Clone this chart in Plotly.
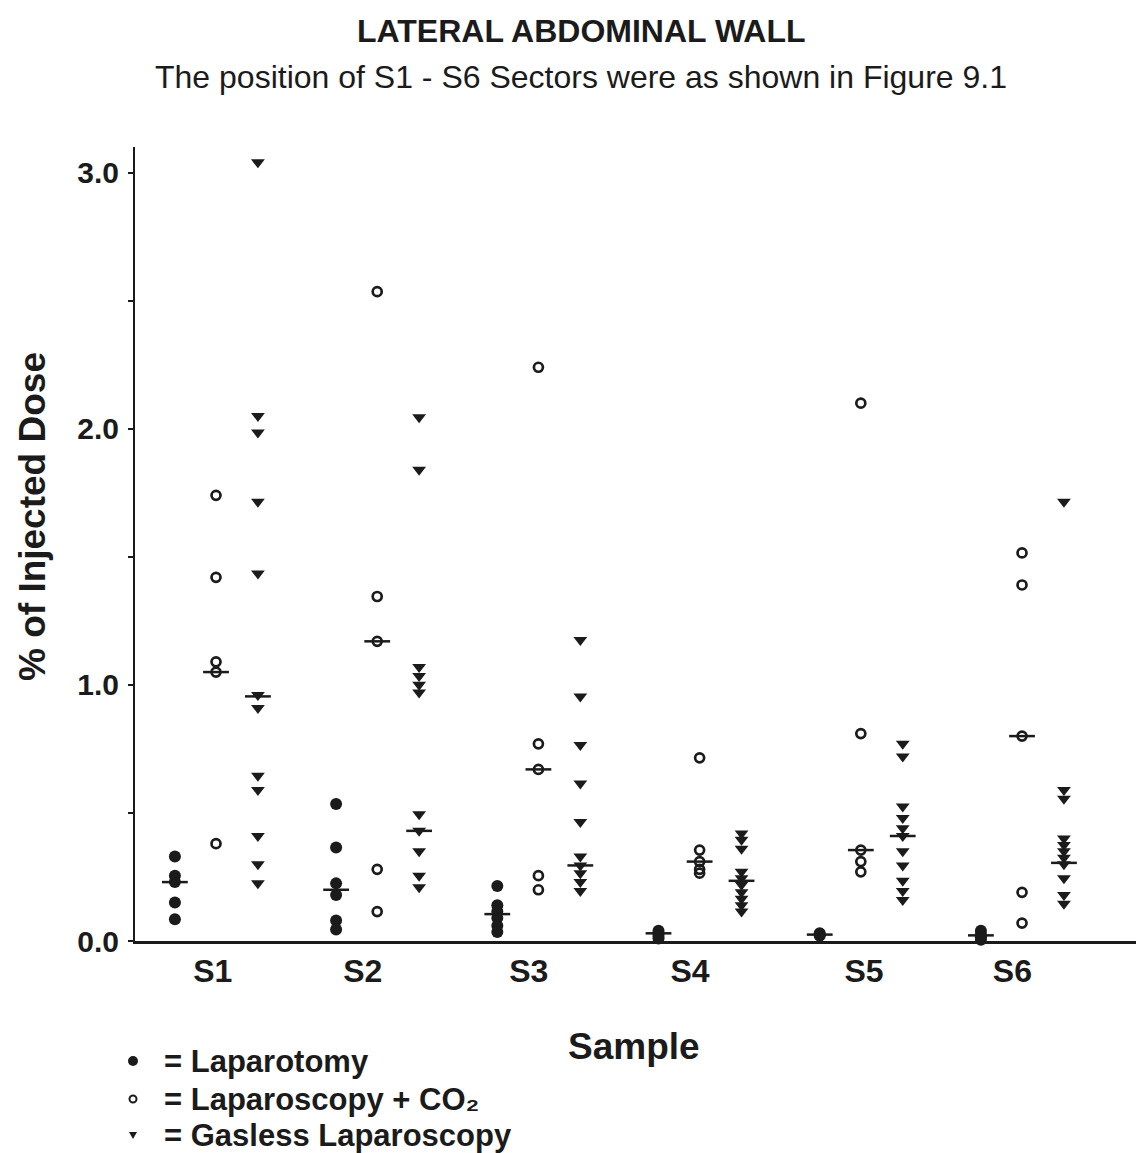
import plotly.graph_objects as go

# ---------------- data ----------------
sectors = ["S1", "S2", "S3", "S4", "S5", "S6"]

laparotomy = [
    [0.33, 0.255, 0.23, 0.15, 0.085],
    [0.535, 0.365, 0.225, 0.18, 0.08, 0.045],
    [0.215, 0.14, 0.115, 0.09, 0.06, 0.035],
    [0.04, 0.03, 0.02, 0.01],
    [0.03, 0.025, 0.02],
    [0.04, 0.025, 0.015, 0.005],
]
laparotomy_median = [0.23, 0.20, 0.105, 0.03, 0.025, 0.022]

laparoscopy_co2 = [
    [1.74, 1.42, 1.09, 1.05, 0.38],
    [2.535, 1.345, 1.17, 0.28, 0.115],
    [2.24, 0.77, 0.67, 0.255, 0.20],
    [0.715, 0.355, 0.31, 0.28, 0.265],
    [2.10, 0.81, 0.355, 0.31, 0.27],
    [1.515, 1.39, 0.80, 0.19, 0.07],
]
laparoscopy_co2_median = [1.05, 1.17, 0.67, 0.31, 0.355, 0.80]

gasless = [
    [3.04, 2.05, 1.985, 1.715, 1.435, 0.96, 0.91, 0.645, 0.59, 0.41, 0.30, 0.225],
    [2.045, 1.84, 1.07, 1.035, 1.0, 0.97, 0.495, 0.43, 0.35, 0.255, 0.21],
    [1.175, 0.955, 0.765, 0.615, 0.465, 0.33, 0.295, 0.265, 0.23, 0.195],
    [0.42, 0.395, 0.36, 0.27, 0.245, 0.22, 0.19, 0.165, 0.14, 0.115],
    [0.77, 0.72, 0.525, 0.48, 0.44, 0.41, 0.35, 0.295, 0.235, 0.195, 0.16],
    [1.715, 0.59, 0.555, 0.40, 0.375, 0.35, 0.325, 0.30, 0.245, 0.18, 0.145],
]
gasless_median = [0.955, 0.43, 0.295, 0.235, 0.41, 0.305]

y_ticks = [0.0, 1.0, 2.0, 3.0]

legend_labels = ["= Laparotomy", "= Laparoscopy + CO\u2082", "= Gasless Laparoscopy"]

# ---------------- layout constants ----------------
INK = "#1b1b1b"
FONT = "Liberation Sans, Arial, Helvetica, sans-serif"
GROUP_OFFSET = {"lap": -0.255, "co2": 0.0, "gas": 0.26}
MED_HALF = 0.08
LABEL_SHIFT = [-0.02, -0.09, -0.06, -0.06, 0.02, -0.06]

W, H = 1136, 1153
L, R, T, B = 135, 0, 147, 212
PW, PH = W - L - R, H - T - B


def px(xp):
    return (xp - L) / PW


def py(yp):
    return (H - B - yp) / PH


fig = go.Figure()


def add_group(values, medians, key, marker):
    xs, ys = [], []
    for i, vals in enumerate(values):
        for v in vals:
            xs.append(i + 1 + GROUP_OFFSET[key])
            ys.append(v)
    fig.add_trace(go.Scatter(x=xs, y=ys, mode="markers", marker=marker,
                             cliponaxis=False, showlegend=False, hoverinfo="y"))
    mx, my = [], []
    for i, m in enumerate(medians):
        c = i + 1 + GROUP_OFFSET[key]
        mx += [c - MED_HALF, c + MED_HALF, None]
        my += [m, m, None]
    return mx, my


med_x, med_y = [], []
a, b = add_group(laparotomy, laparotomy_median, "lap",
                 dict(symbol="circle", size=12, color=INK))
med_x += a; med_y += b
a, b = add_group(laparoscopy_co2, laparoscopy_co2_median, "co2",
                 dict(symbol="circle-open", size=9, color=INK,
                      line=dict(width=2.7, color=INK)))
med_x += a; med_y += b
a, b = add_group(gasless, gasless_median, "gas",
                 dict(symbol="triangle-down", size=12, color=INK))
med_x += a; med_y += b

fig.add_trace(go.Scatter(x=med_x, y=med_y, mode="lines",
                         line=dict(color=INK, width=2.5),
                         cliponaxis=False, showlegend=False, hoverinfo="skip"))

fig.update_layout(
    width=W, height=H,
    margin=dict(l=L, r=R, t=T, b=B, pad=0),
    paper_bgcolor="white", plot_bgcolor="white",
    font=dict(family=FONT, color=INK),
    showlegend=False,
    xaxis=dict(
        range=[0.4975, 6.707],
        showgrid=False, zeroline=False,
        showline=True, linewidth=2.5, linecolor=INK,
        ticks="", tickvals=[i + 1 + s for i, s in enumerate(LABEL_SHIFT)],
        ticktext=sectors,
        tickfont=dict(size=32, weight="bold", family=FONT, color=INK),
        ticklabelstandoff=0,
    ),
    yaxis=dict(
        range=[0, 3.1],
        showgrid=False, zeroline=False,
        showline=True, linewidth=2, linecolor=INK,
        ticks="outside", ticklen=5, tickwidth=2, tickcolor=INK,
        tickvals=y_ticks, tickformat=".1f",
        tickfont=dict(size=30, weight="bold", family=FONT, color=INK),
        minor=dict(dtick=0.5, ticks="outside", ticklen=5, tickwidth=2, tickcolor=INK),
        ticklabelstandoff=3,
    ),
)

annotations = [
    dict(text="LATERAL ABDOMINAL WALL", x=581, y=31, size=32, weight="bold"),
    dict(text="The position of S1 - S6 Sectors were as shown in Figure 9.1",
         x=581, y=77, size=32, weight="normal"),
    dict(text="Sample", x=634, y=1046, size=37, weight="bold"),
]
for an in annotations:
    fig.add_annotation(
        text=an["text"], xref="paper", yref="paper",
        x=px(an["x"]), y=py(an["y"]),
        xanchor="center", yanchor="middle", showarrow=False,
        font=dict(size=an["size"], weight=an["weight"], family=FONT, color=INK),
    )

# y-axis title
fig.add_annotation(
    text="% of Injected Dose", xref="paper", yref="paper",
    x=px(32), y=py(517),
    xanchor="center", yanchor="middle", showarrow=False, textangle=-90,
    font=dict(size=37, weight="bold", family=FONT, color=INK),
)

# legend: key glyphs drawn as shapes, labels as text
legend_y = [1061, 1099, 1135]
kx = 133
shapes = [
    dict(type="circle", xref="paper", yref="paper",
         x0=px(kx - 5), x1=px(kx + 5), y0=py(legend_y[0] + 5), y1=py(legend_y[0] - 5),
         fillcolor=INK, line=dict(width=0)),
    dict(type="circle", xref="paper", yref="paper",
         x0=px(kx - 3.5), x1=px(kx + 3.5), y0=py(legend_y[1] + 3.5), y1=py(legend_y[1] - 3.5),
         fillcolor="white", line=dict(width=2, color=INK)),
    dict(type="path", xref="paper", yref="paper",
         path="M {:.5f},{:.5f} L {:.5f},{:.5f} L {:.5f},{:.5f} Z".format(
             px(kx - 4), py(legend_y[2] - 3), px(kx + 4), py(legend_y[2] - 3),
             px(kx), py(legend_y[2] + 4)),
         fillcolor=INK, line=dict(width=0)),
]
fig.update_layout(shapes=shapes)

for label, yy in zip(legend_labels, legend_y):
    fig.add_annotation(
        text=label, xref="paper", yref="paper",
        x=px(162), y=py(yy),
        xanchor="left", yanchor="middle", showarrow=False,
        font=dict(size=31, weight="bold", family=FONT, color=INK),
    )

fig.write_html("out.html")
